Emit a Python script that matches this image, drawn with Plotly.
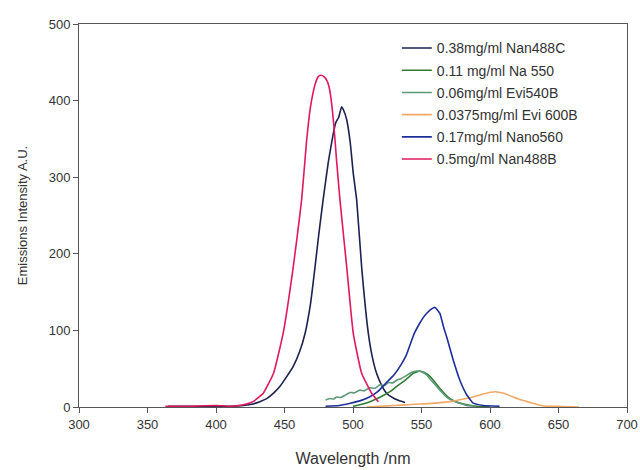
import plotly.graph_objects as go

# ---- data ----
names = ["0.38mg/ml Nan488C", "0.11 mg/ml Na 550", "0.06mg/ml Evi540B",
         "0.0375mg/ml Evi 600B", "0.17mg/ml Nano560", "0.5mg/ml Nan488B"]
colors = ["#1c2150", "#2f7a34", "#5c9a78", "#f2a868", "#1f2f9a", "#e0195e"]

nan488c_x = [365, 380, 400, 410, 420, 427, 432, 437, 442, 446.7, 451, 456.4, 461, 465, 469, 472.3,
             475, 478.3, 482, 485.6, 487.6, 489.5, 491.7, 493, 495.4, 498, 500.2, 502.7, 506.3,
             511.2, 514, 517.2, 521, 524.5, 530, 534, 538]
nan488c_y = [1, 1, 1, 1, 2, 4, 7, 11, 18, 27, 38, 53, 72, 96, 135, 183,
             225, 272, 320, 357, 372, 378, 392, 388, 375, 345, 305, 270, 183,
             96, 66, 44, 28, 18, 11, 8, 6]

na550_x = [500, 505, 512.4, 520, 527, 532, 536.7, 540, 544, 548.9, 552, 556.2, 560, 563.5,
           567, 570.8, 575, 580.5, 590, 600]
na550_y = [1, 3, 7, 13, 20, 27, 33, 38, 44, 47, 45, 40, 32, 24,
           17, 11, 7, 4, 1, 0]

evi540_x = [480, 483, 486, 488, 491, 494, 497.8, 501, 505, 508, 512, 516, 519.7, 523, 526,
            529, 531.9, 535, 537, 539, 541.6, 544, 546.4, 550, 553.7, 557, 561, 564.5,
            568.3, 573, 578, 583, 590]
evi540_y = [9, 11, 10.5, 13, 12.5, 15, 19, 18.5, 22, 21, 25, 24.5, 29, 28, 32,
            31.5, 35, 37, 39, 41, 44, 46, 47, 46, 42, 35, 27, 20,
            13, 8, 5, 2, 1]

evi600_x = [510, 520, 530, 540, 550, 560, 570.8, 580, 587.8, 595, 603.6, 610, 617, 623, 629,
            635, 641, 650, 665]
evi600_y = [0, 1, 2, 3, 4, 5, 7, 10, 13, 17, 20, 18, 13, 9, 6,
            3, 1, 1, 0]

nano560_x = [480, 490, 498, 505, 512, 518, 524.5, 530, 535, 539, 542, 545, 548.9, 551, 553.7,
             557.4, 559.9, 563.5, 566, 568.3, 573.2, 578, 583, 587.8, 595, 607]
nano560_y = [1, 2, 5, 8, 13, 20, 32, 42, 55, 68, 83, 97, 110, 116, 122,
             128, 130, 122, 105, 92, 61, 35, 16, 5, 2, 1]

nan488b_x = [363, 380, 400, 410, 420, 427, 434.5, 442, 449, 456.4, 462.5, 466, 469, 472.3,
             474.5, 476.5, 479, 481, 482.5, 484, 486, 488, 490.5, 495.4, 500.2, 506.3, 513.6, 518.5]
nan488b_y = [1, 1, 2, 1, 3, 7, 18, 44, 96, 183, 270, 345, 392, 421,
             431, 433, 431, 426, 418, 402, 368, 322, 270, 183, 96, 44, 18, 7]

series_x = [nan488c_x, na550_x, evi540_x, evi600_x, nano560_x, nan488b_x]
series_y = [nan488c_y, na550_y, evi540_y, evi600_y, nano560_y, nan488b_y]

x_ticks = [300, 350, 400, 450, 500, 550, 600, 650, 700]
y_ticks = [0, 100, 200, 300, 400, 500]

FONT = "Liberation Sans, Arial, sans-serif"

fig = go.Figure()
for i, (nm, c, xs, ys) in enumerate(zip(names, colors, series_x, series_y)):
    fig.add_trace(go.Scatter(x=xs, y=ys, mode="lines", name=nm,
                             legendgroup=f"g{i}",
                             line=dict(color=c, width=1.6, shape="spline", smoothing=0.4)))

axis_common = dict(showline=True, linecolor="#555555", linewidth=1, mirror=True,
                   ticks="outside", ticklen=5, tickcolor="#555555",
                   showgrid=False, zeroline=False, automargin=False,
                   tickfont=dict(family=FONT, size=13, color="#333333"))

fig.update_layout(
    width=640, height=470,
    margin=dict(l=79, r=13, t=24, b=63),
    paper_bgcolor="white", plot_bgcolor="white",
    font=dict(family=FONT, color="#333333"),
    showlegend=True,
    legend=dict(x=0.58, y=0.978, xanchor="left", yanchor="top",
                bgcolor="rgba(0,0,0,0)", borderwidth=0,
                font=dict(family=FONT, size=14, color="#333333"),
                traceorder="grouped", tracegroupgap=1),
    xaxis=dict(range=[300, 700], tickvals=x_ticks,
               title=dict(text="Wavelength /nm", font=dict(family=FONT, size=16, color="#333333"),
                          standoff=22),
               **axis_common),
    yaxis=dict(range=[0, 500], tickvals=y_ticks,
               title=dict(text="Emissions Intensity A.U.", font=dict(family=FONT, size=13, color="#333333"),
                          standoff=18),
               **axis_common),
)

fig.write_html("out.html")
